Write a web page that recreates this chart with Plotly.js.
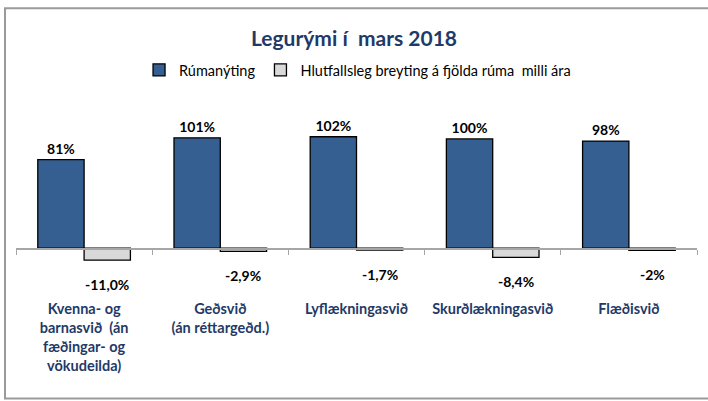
<!DOCTYPE html>
<html>
<head>
<meta charset="utf-8">
<script src="https://cdn.plot.ly/plotly-3.0.1.min.js"></script>
<style>
html,body{margin:0;padding:0;background:#fff;}
#chart{width:708px;height:401px;}
</style>
</head>
<body>
<div id="chart"></div>
<script>
// ---- data ----
const categories = [
  "Kvenna- og<br>barnasvið  (án<br>fæðingar- og<br>vökudeilda)",
  "Geðsvið<br>(án réttargeðd.)",
  "Lyflækningasvið",
  "Skurðlækningasvið",
  "Flæðisvið"
];
const occupancy = [81, 101, 102, 100, 98];
const occupancyLabels = ["81%", "101%", "102%", "100%", "98%"];
const bedChange = [-11.0, -2.9, -1.7, -8.4, -2.0];
const bedChangeLabels = ["-11,0%", "-2,9%", "-1,7%", "-8,4%", "-2%"];
const seriesNames = ["Rúmanýting", "Hlutfallsleg breyting á fjölda rúma  milli ára"];

// ---- layout constants ----
const W = 708, H = 401;
const mL = 16, mR = 11, mT = 127.5, mB = 130.5;
const yMin = -20, yMax = 110;
const bargap = 0.32;
const plotW = W - mL - mR, plotH = H - mT - mB;
const catW = plotW / categories.length;
const barW = (1 - bargap) / 2 * catW;
const px2paperX = p => (p - mL) / plotW;
const px2paperY = p => (H - mB - p) / plotH;
const FONT = "Lato, 'Open Sans', sans-serif";
const navy = "#1f3a68";

const traces = [
  {
    type: "bar", name: seriesNames[0], x: categories, y: occupancy,
    text: occupancyLabels, textposition: "outside", cliponaxis: false,
    textfont: {family: FONT, size: 14, color: "#000", weight: "bold"},
    marker: {color: "#365f91", line: {color: "#000", width: 1.3}},
    hoverinfo: "skip"
  },
  {
    type: "bar", name: seriesNames[1], x: categories, y: bedChange,
    marker: {color: "#d9d9d9", line: {color: "#000", width: 1.3}},
    hoverinfo: "skip"
  }
];

const annotations = bedChange.map((v, i) => ({
  x: categories[i], y: v, xref: "x", yref: "y",
  xshift: barW / 2, yshift: -14,
  yanchor: "top", xanchor: "center", showarrow: false,
  text: "<b>" + bedChangeLabels[i] + "</b>",
  font: {family: FONT, size: 14, color: "#000"}
}));

const layout = {
  width: W, height: H,
  margin: {l: mL, r: mR, t: mT, b: mB, pad: 0},
  paper_bgcolor: "#fff", plot_bgcolor: "#fff",
  font: {family: FONT, color: "#000"},
  title: {
    text: "<b>Legurými í  mars 2018</b>",
    font: {family: FONT, size: 21, color: navy},
    x: 0.5, xref: "container", y: 1 - 39 / H, yref: "container", yanchor: "middle"
  },
  showlegend: true,
  legend: {
    orientation: "h", x: 0.505, xanchor: "center", xref: "container",
    y: 1 - 70 / H, yanchor: "middle", yref: "container",
    font: {family: FONT, size: 14.5, color: "#000"},
    traceorder: "normal", itemclick: false, itemdoubleclick: false
  },
  barmode: "group", bargap: bargap, bargroupgap: 0,
  xaxis: {
    type: "category", anchor: "free",
    position: (0 - yMin) / (yMax - yMin),
    showline: true, linecolor: "#a6a6a6", linewidth: 1.5,
    ticks: "outside", ticklen: 5, tickcolor: "#a6a6a6", tickwidth: 1,
    tickson: "boundaries",
    showgrid: false, zeroline: false,
    ticklabelstandoff: 47,
    tickfont: {family: FONT, size: 14.5, color: navy, weight: "bold"},
    fixedrange: true
  },
  yaxis: {
    range: [yMin, yMax], visible: false, showgrid: false, zeroline: false, fixedrange: true
  },
  annotations: annotations,
  shapes: [{
    type: "rect", xref: "paper", yref: "paper", layer: "below",
    x0: px2paperX(5), x1: px2paperX(712), y0: px2paperY(400), y1: px2paperY(7),
    line: {color: "#9a9a9a", width: 2}, fillcolor: "rgba(0,0,0,0)"
  }]
};

Plotly.newPlot("chart", traces, layout, {staticPlot: true, displayModeBar: false});
</script>
</body>
</html>
